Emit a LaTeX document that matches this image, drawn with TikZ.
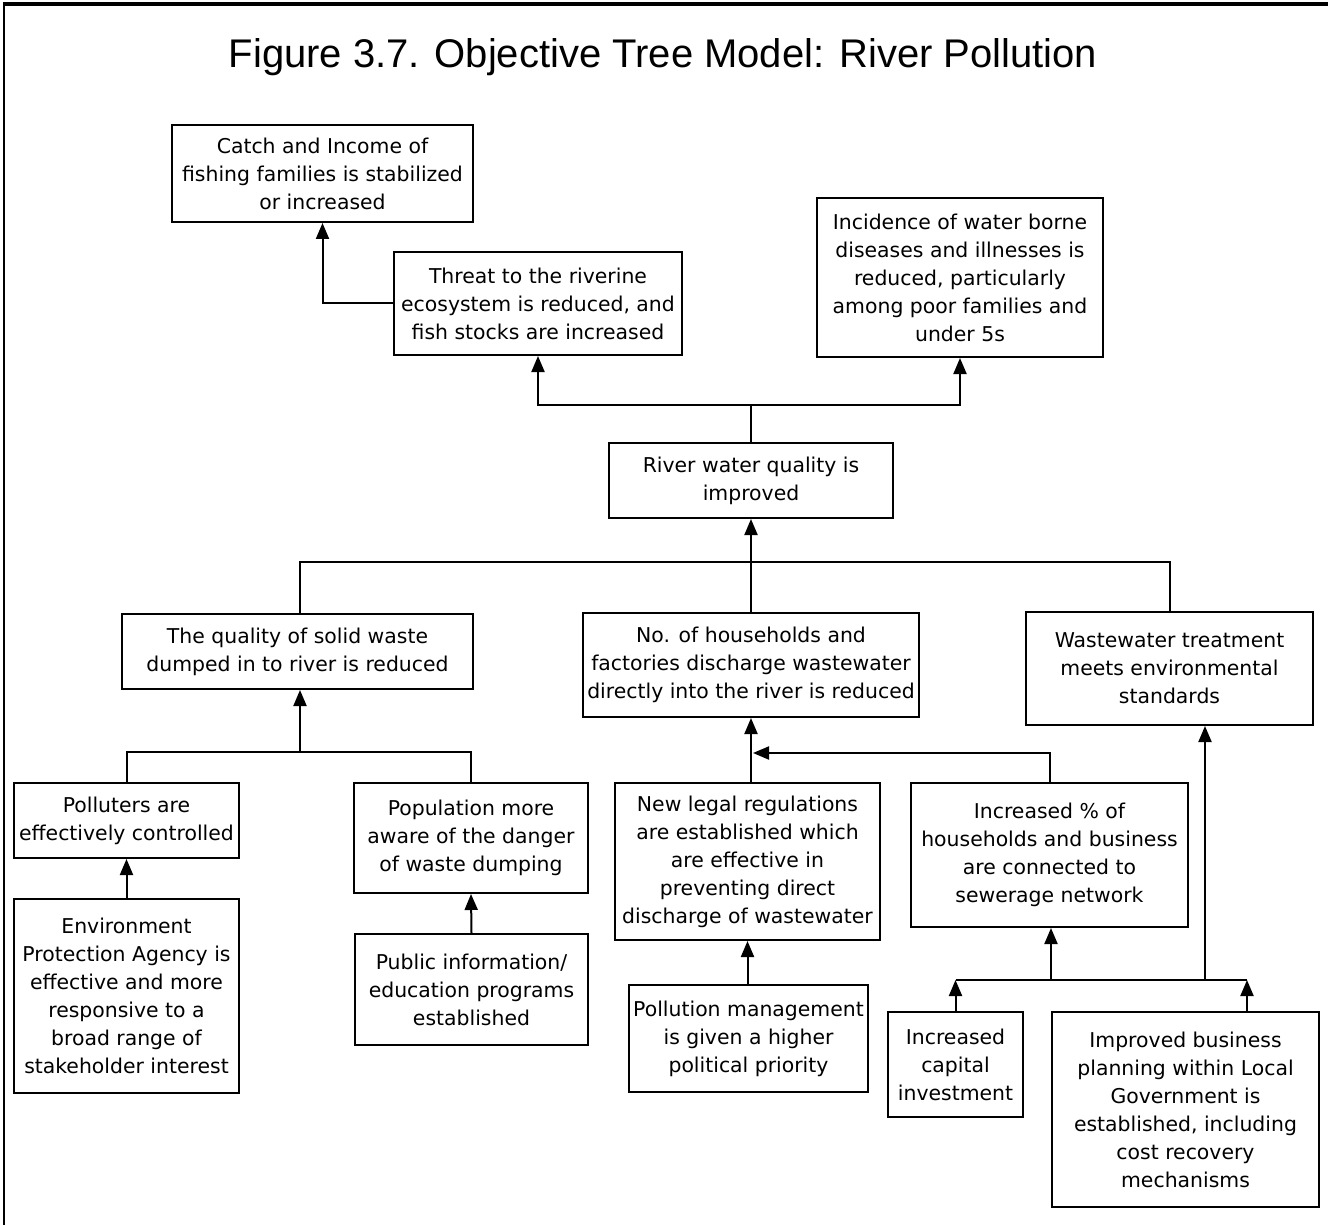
\documentclass[tikz,border=0pt]{standalone}
\usepackage{fontspec}
\setmainfont{DejaVu Sans}
\newfontfamily\titlefont{Liberation Sans}
\usetikzlibrary{arrows.meta}

\begin{document}
\begin{tikzpicture}[x=0.5pt,y=-0.5pt,
  bx/.style 2 args={draw, line width=1pt, align=center, inner sep=0pt,
    font=\fontsize{10.2pt}{14pt}\selectfont,
    minimum width=#1*0.5pt, minimum height=#2*0.5pt},
  link/.style={line width=1pt},
  arr/.style={line width=1pt, -{Triangle[length=8pt,width=6.5pt]}}]

\useasboundingbox (0,0) rectangle (1328,1225);

% open frame: heavy top rule and left rule
\draw[line width=2pt] (3,4) -- (1328,4);
\draw[line width=1pt] (4,3) -- (4,1225);

\node[font=\titlefont\fontsize{20pt}{24pt}\selectfont] (title) at (663,57)
  {Figure 3.7. Objective Tree Model: River Pollution};

% top level
\node[bx={301}{97}] (catch) at (322.5,173.5)
  {Catch and Income of\\fishing families is stabilized\\or increased};
\node[bx={288}{103}] (threat) at (538,303.5)
  {Threat to the riverine\\ecosystem is reduced, and\\fish stocks are increased};
\node[bx={286}{159}] (incid) at (960,277.5)
  {Incidence of water borne\\diseases and illnesses is\\reduced, particularly\\among poor families and\\under 5s};
\node[bx={284}{75}] (river) at (751,480.5)
  {River water quality is\\improved};

% second level
\node[bx={351}{75}] (solid) at (297.5,651.5)
  {The quality of solid waste\\dumped in to river is reduced};
\node[bx={336}{104}] (house) at (751,665)
  {No. of households and\\factories discharge wastewater\\directly into the river is reduced};
\node[bx={287}{113}] (wwt) at (1169.5,668.5)
  {Wastewater treatment\\meets environmental\\standards};

% third level
\node[bx={225}{75}] (poll) at (126.5,820.5)
  {Polluters are\\effectively controlled};
\node[bx={234}{110}] (popu) at (471,838)
  {Population more\\aware of the danger\\of waste dumping};
\node[bx={265}{157}] (legal) at (747.5,861.5)
  {New legal regulations\\are established which\\are effective in\\preventing direct\\discharge of wastewater};
\node[bx={277}{144}] (incr) at (1049.5,855)
  {Increased \% of\\households and business\\are connected to\\sewerage network};

% bottom level
\node[bx={225}{194}] (epa) at (126.5,996)
  {Environment\\Protection Agency is\\effective and more\\responsive to a\\broad range of\\stakeholder interest};
\node[bx={233}{111}] (pub) at (471.5,989.5)
  {Public information/\\education programs\\established};
\node[bx={239}{107}] (pmg) at (748.5,1038.5)
  {Pollution management\\is given a higher\\political priority};
\node[bx={135}{105}] (cap) at (955.5,1064.5)
  {Increased\\capital\\investment};
\node[bx={267}{195}] (impr) at (1185.5,1109.5)
  {Improved business\\planning within Local\\Government is\\established, including\\cost recovery\\mechanisms};

% junction points
\coordinate (jr) at (751,405);
\coordinate (jm) at (751,562);
\coordinate (jl) at (300,752);
\coordinate (jh) at (753,753);
\coordinate (jb) at (1051,980);
\coordinate (jw) at (1205,980);
\coordinate (ib) at (1247,980);

% connectors
\draw[arr] (threat.west) -| (catch.south);
\draw[link] (river.north) -- (jr);
\draw[arr] (jr) -| (threat.south);
\draw[arr] (jr) -| (incid.south);

\draw[link] (solid.north -| jl) |- (jm) -| (wwt.north);
\draw[link] (house.north) -- (jm);
\draw[arr] (jm) -- (river.south);

\draw[link] (poll.north) |- (jl) -| (popu.north);
\draw[arr] (jl) -- (jl |- solid.south);

\draw[arr] (legal.north -| house.south) -- (house.south);
\draw[arr] (incr.north) |- (jh);

\draw[arr] (epa.north) -- (poll.south);
\draw[arr] (pub.north) -- (popu.south);
\draw[arr] (pmg.north -| legal.south) -- (legal.south);

\draw[arr] (cap.north) -- (cap.north |- jb);
\draw[arr] (ib |- impr.north) -- (ib);
\draw[link] (cap.north |- jb) -- (ib);
\draw[arr] (jb) -- (jb |- incr.south);
\draw[arr] (jw) -- (jw |- wwt.south);
\end{tikzpicture}
\end{document}
